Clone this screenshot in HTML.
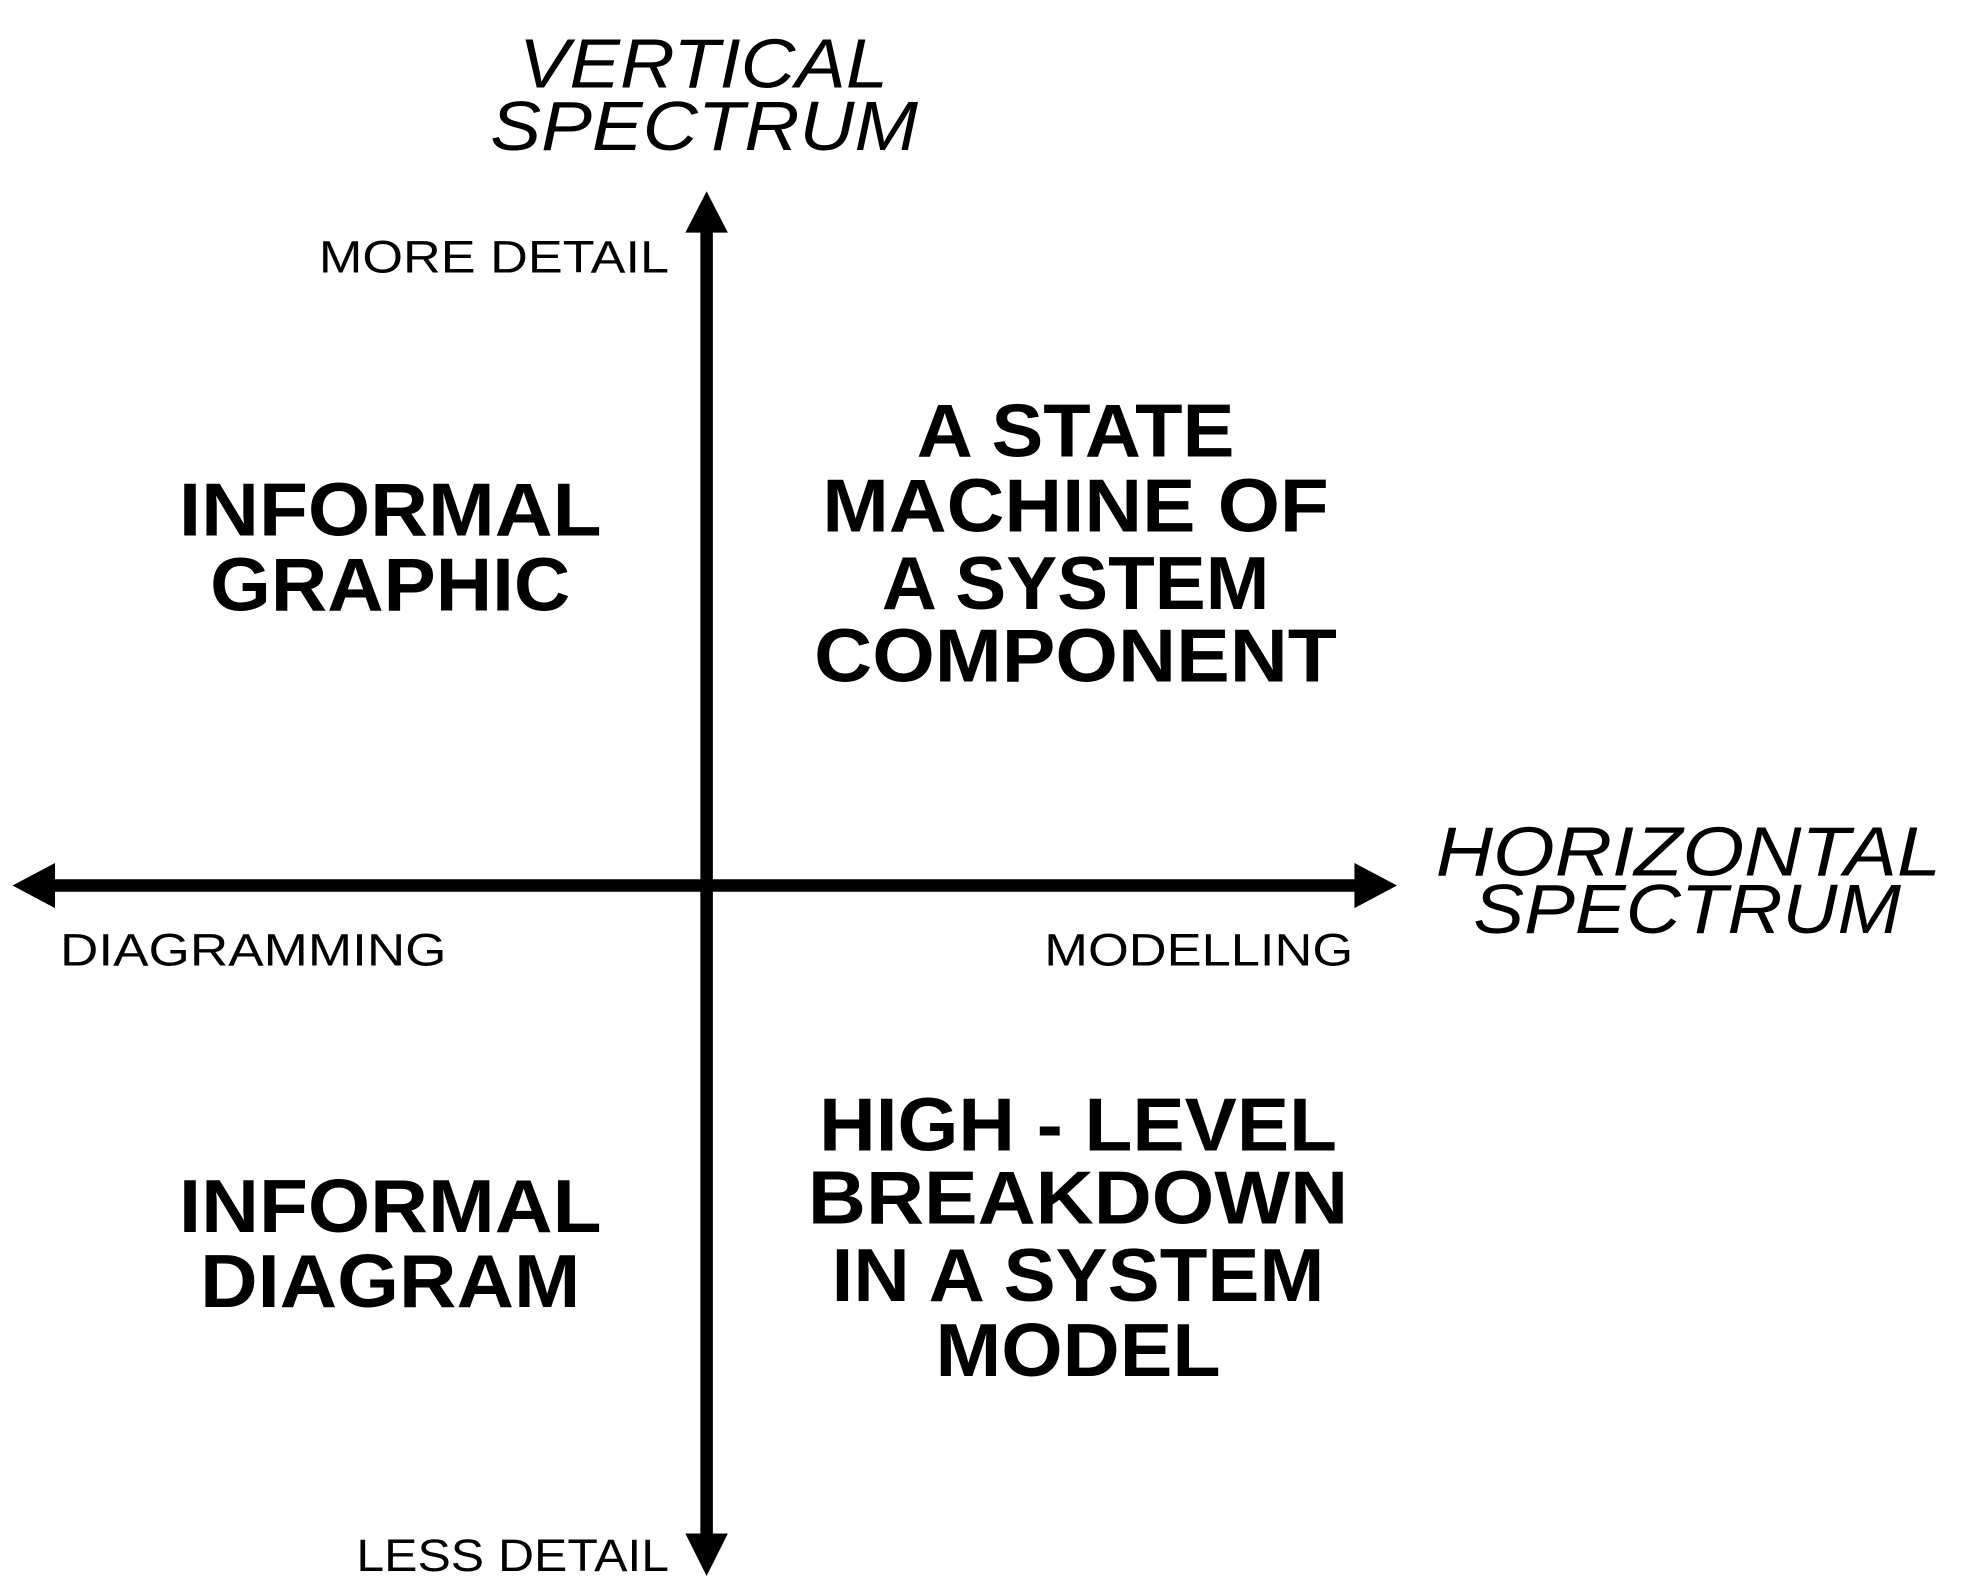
<!DOCTYPE html>
<html><head><style>html,body{margin:0;padding:0;background:#fff;}svg{display:block}</style></head>
<body>
<svg width="1961" height="1596" viewBox="0 0 1568 1276" preserveAspectRatio="none" xmlns="http://www.w3.org/2000/svg">
<rect width="1568" height="1276" fill="#fff"/>
<g stroke="#000" stroke-width="10">
<line x1="565" y1="180" x2="565" y2="1235"/>
<line x1="35" y1="708" x2="1092" y2="708"/>
</g>
<g fill="#000">
<polygon points="565,153 548,186 582,186"/>
<polygon points="565,1260 548,1226 582,1226"/>
<polygon points="10,708 44,690 44,726"/>
<polygon points="1117,708 1083,690 1083,726"/>
</g>
<g font-family="Liberation Sans, sans-serif" fill="#000">
<g font-style="italic" font-size="56">
<text x="415" y="70" textLength="295" lengthAdjust="spacingAndGlyphs">VERTICAL</text>
<text x="392" y="120" textLength="342" lengthAdjust="spacingAndGlyphs">SPECTRUM</text>
<text x="1148" y="700" textLength="404" lengthAdjust="spacingAndGlyphs">HORIZONTAL</text>
<text x="1178" y="746" textLength="342" lengthAdjust="spacingAndGlyphs">SPECTRUM</text>
</g>
<g font-size="36">
<text x="255" y="218" textLength="280" lengthAdjust="spacingAndGlyphs">MORE DETAIL</text>
<text x="285" y="1256" textLength="250" lengthAdjust="spacingAndGlyphs">LESS DETAIL</text>
<text x="48" y="772" textLength="309" lengthAdjust="spacingAndGlyphs">DIAGRAMMING</text>
<text x="835" y="772" textLength="247" lengthAdjust="spacingAndGlyphs">MODELLING</text>
</g>
<g font-weight="bold" font-size="60" text-anchor="middle">
<text x="312" y="428" textLength="338" lengthAdjust="spacingAndGlyphs">INFORMAL</text>
<text x="312" y="488" textLength="288" lengthAdjust="spacingAndGlyphs">GRAPHIC</text>
<text x="312" y="985" textLength="338" lengthAdjust="spacingAndGlyphs">INFORMAL</text>
<text x="312" y="1045" textLength="304" lengthAdjust="spacingAndGlyphs">DIAGRAM</text>
<text x="860" y="365" textLength="254" lengthAdjust="spacingAndGlyphs">A STATE</text>
<text x="860" y="425" textLength="405" lengthAdjust="spacingAndGlyphs">MACHINE OF</text>
<text x="860" y="487" textLength="310" lengthAdjust="spacingAndGlyphs">A SYSTEM</text>
<text x="860" y="545" textLength="418" lengthAdjust="spacingAndGlyphs">COMPONENT</text>
<text x="862" y="920" textLength="414" lengthAdjust="spacingAndGlyphs">HIGH - LEVEL</text>
<text x="862" y="978" textLength="432" lengthAdjust="spacingAndGlyphs">BREAKDOWN</text>
<text x="862" y="1040" textLength="394" lengthAdjust="spacingAndGlyphs">IN A SYSTEM</text>
<text x="862" y="1100" textLength="228" lengthAdjust="spacingAndGlyphs">MODEL</text>
</g>
</g>
</svg>
</body></html>
